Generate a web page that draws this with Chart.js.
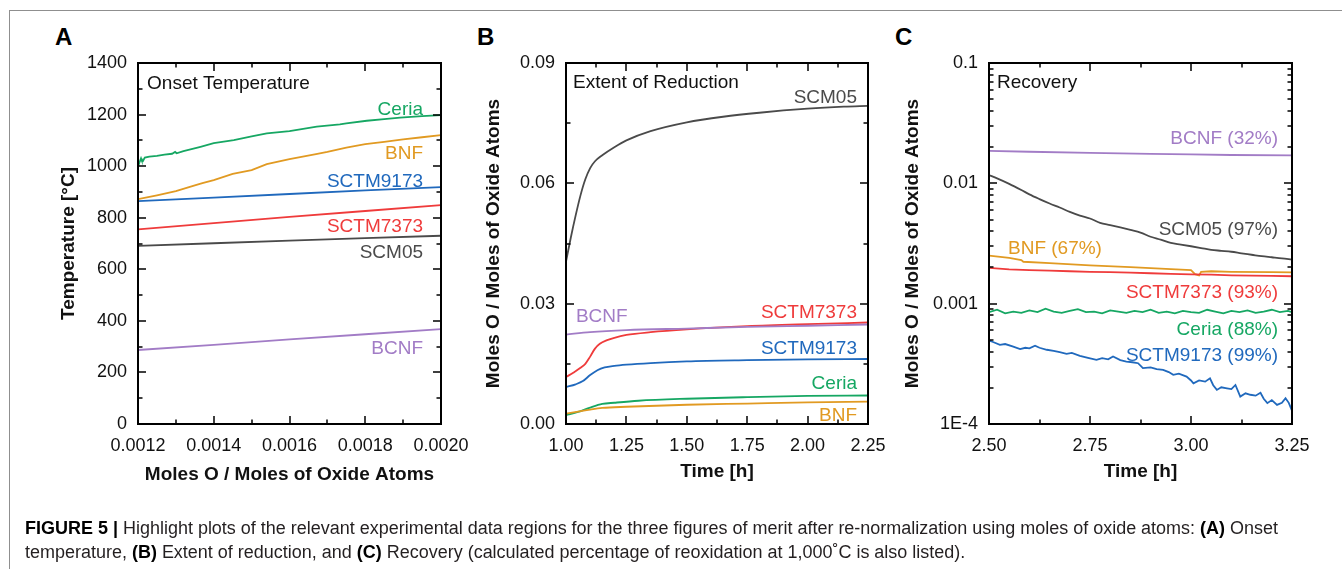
<!DOCTYPE html>
<html><head><meta charset="utf-8">
<script src="https://cdn.jsdelivr.net/npm/chart.js@4.4.0/dist/chart.umd.min.js"></script>
<style>
html,body{margin:0;padding:0;background:#fff;}
body{width:1342px;height:569px;position:relative;overflow:hidden;font-family:"Liberation Sans",Arial,sans-serif;}
canvas{position:absolute;left:0;top:0;}
#frameTop{position:absolute;left:10px;top:10px;width:1332px;height:0;border-top:1.5px solid #8f8f8f;}
#frameLeft{position:absolute;left:9px;top:10px;width:0;height:559px;border-left:1.5px solid #8f8f8f;}
.cap{position:absolute;left:25px;white-space:nowrap;font-size:18px;line-height:18px;color:#231f20;transform-origin:0 0;}
.cap b{color:#000;}
.panel{position:absolute;font-weight:bold;font-size:24px;line-height:24px;color:#000;}
</style></head>
<body>
<div id="frameTop"></div><div id="frameLeft"></div>
<div class="panel" style="left:55px;top:25px">A</div>
<div class="panel" style="left:477px;top:25px">B</div>
<div class="panel" style="left:895px;top:25px">C</div>
<canvas id="cA" width="1342" height="569"></canvas>
<canvas id="cB" width="1342" height="569"></canvas>
<canvas id="cC" width="1342" height="569"></canvas>
<div class="cap" id="cap1" style="top:519px"><b>FIGURE 5 |</b> Highlight plots of the relevant experimental data regions for the three figures of merit after re-normalization using moles of oxide atoms: <b>(A)</b> Onset</div>
<div class="cap" id="cap2" style="top:543px">temperature, <b>(B)</b> Extent of reduction, and <b>(C)</b> Recovery (calculated percentage of reoxidation at 1,000˚C is also listed).</div>
<script>
// ================= DATA =================
// ---- Panel A: Onset Temperature ----
const aXTicks = [0.0012, 0.0014, 0.0016, 0.0018, 0.0020];
const aXTickLabels = ['0.0012', '0.0014', '0.0016', '0.0018', '0.0020'];
const aXMinor = [0.0013, 0.0015, 0.0017, 0.0019];
const aYTicks = [0, 200, 400, 600, 800, 1000, 1200, 1400];
const aYTickLabels = ['0', '200', '400', '600', '800', '1000', '1200', '1400'];
const aYMinor = [100, 300, 500, 700, 900, 1100, 1300];

const aCeriaX = [0.001200, 0.001204, 0.001208, 0.001210, 0.001213, 0.001218, 0.001230, 0.001250, 0.001270, 0.001290, 0.001298, 0.001302, 0.001320, 0.001365, 0.001400, 0.001453, 0.001500, 0.001540, 0.001600, 0.001672, 0.001733, 0.001750, 0.001804, 0.001850, 0.001892, 0.001950, 0.002000];
const aCeriaT = [998, 1015, 1030, 1022, 1020, 1033, 1037, 1040, 1045, 1048, 1055, 1050, 1058, 1075, 1089, 1101, 1115, 1127, 1136, 1153, 1162, 1166, 1176, 1182, 1188, 1194, 1198];
const aBnfX = [0.00120, 0.00125, 0.00130, 0.00135, 0.00137, 0.00140, 0.00145, 0.00150, 0.00154, 0.00160, 0.00167, 0.00170, 0.00175, 0.00180, 0.00185, 0.00190, 0.00195, 0.00200];
const aBnfT = [872, 887, 903, 925, 934, 946, 970, 985, 1008, 1027, 1047, 1055, 1072, 1085, 1094, 1104, 1112, 1120];
const aLinX = [0.0012, 0.0014, 0.0016, 0.0018, 0.0020];
const aSctm9173T = [864, 878, 892, 906, 919];
const aSctm7373T = [755, 779, 803, 826, 849];
const aScm05T = [691, 701, 711, 721, 730];
const aBcnfT = [287, 307, 328, 348, 368];

// ---- Panel B: Extent of Reduction ----
const bXTicks = [1.00, 1.25, 1.50, 1.75, 2.00, 2.25];
const bXTickLabels = ['1.00', '1.25', '1.50', '1.75', '2.00', '2.25'];
const bXMinor = [1.125, 1.375, 1.625, 1.875, 2.125];
const bYTicks = [0, 0.03, 0.06, 0.09];
const bYTickLabels = ['0.00', '0.03', '0.06', '0.09'];
const bYMinor = [0.015, 0.045, 0.075];

const bScm05Time = [1.00, 1.02, 1.04, 1.06, 1.08, 1.10, 1.12, 1.15, 1.20, 1.25, 1.35, 1.50, 1.65, 1.80, 2.00, 2.15, 2.25];
const bScm05 = [0.0405, 0.0465, 0.0520, 0.0570, 0.0610, 0.0638, 0.0655, 0.0670, 0.0690, 0.0707, 0.0730, 0.0752, 0.0766, 0.0776, 0.0786, 0.0791, 0.0793];
const bBcnfTime = [1.00, 1.10, 1.25, 1.50, 1.75, 2.00, 2.25];
const bBcnf = [0.0223, 0.0229, 0.0234, 0.0238, 0.0242, 0.0245, 0.0248];
const bSctm7373Time = [1.00, 1.03, 1.06, 1.08, 1.10, 1.12, 1.14, 1.17, 1.20, 1.25, 1.35, 1.50, 1.75, 2.00, 2.25];
const bSctm7373 = [0.0117, 0.0128, 0.0140, 0.0150, 0.0168, 0.0188, 0.0200, 0.0209, 0.0215, 0.0222, 0.0229, 0.0236, 0.0244, 0.0249, 0.0253];
const bSctm9173Time = [1.00, 1.04, 1.07, 1.10, 1.13, 1.16, 1.20, 1.25, 1.35, 1.50, 1.75, 2.00, 2.25];
const bSctm9173 = [0.0092, 0.0099, 0.0107, 0.0122, 0.0134, 0.0141, 0.0145, 0.0148, 0.0152, 0.0156, 0.0159, 0.0161, 0.0162];
const bCeriaTime = [1.00, 1.05, 1.10, 1.15, 1.20, 1.30, 1.50, 1.75, 2.00, 2.25];
const bCeria = [0.0022, 0.0030, 0.0041, 0.0050, 0.0053, 0.0058, 0.0063, 0.0067, 0.0070, 0.0071];
const bBnfTime = [1.00, 1.05, 1.10, 1.15, 1.25, 1.50, 1.75, 2.00, 2.25];
const bBnf = [0.0026, 0.0031, 0.0036, 0.0040, 0.0043, 0.0048, 0.0051, 0.0054, 0.0056];

// ---- Panel C: Recovery ----
const cXTicks = [2.50, 2.75, 3.00, 3.25];
const cXTickLabels = ['2.50', '2.75', '3.00', '3.25'];
const cXMinor = [2.625, 2.875, 3.125];
const cYTicks = [0.0001, 0.001, 0.01, 0.1];
const cYTickLabels = ['1E-4', '0.001', '0.01', '0.1'];
const cYMinor = [0.0002, 0.0003, 0.0004, 0.0005, 0.0006, 0.0007, 0.0008, 0.0009, 0.002, 0.003, 0.004, 0.005, 0.006, 0.007, 0.008, 0.009, 0.02, 0.03, 0.04, 0.05, 0.06, 0.07, 0.08, 0.09];

const cBcnfTime = [2.50, 2.60, 2.75, 2.90, 3.00, 3.10, 3.25];
const cBcnf = [0.0186, 0.0183, 0.0179, 0.0176, 0.0174, 0.0172, 0.0171];
const cScm05Time = [2.50, 2.52, 2.55, 2.58, 2.60, 2.625, 2.65, 2.675, 2.70, 2.725, 2.75, 2.775, 2.80, 2.825, 2.85, 2.875, 2.90, 2.925, 2.95, 2.975, 3.00, 3.025, 3.05, 3.075, 3.10, 3.125, 3.15, 3.175, 3.20, 3.225, 3.25];
const cScm05 = [0.0117, 0.0110, 0.0099, 0.0088, 0.0081, 0.0074, 0.0068, 0.0063, 0.0058, 0.0054, 0.0051, 0.0047, 0.0045, 0.0043, 0.0041, 0.0039, 0.0036, 0.0034, 0.0032, 0.0031, 0.0030, 0.0029, 0.0028, 0.00275, 0.0027, 0.00262, 0.00255, 0.00248, 0.00243, 0.00238, 0.00232];
const cBnfTime = [2.50, 2.55, 2.58, 2.585, 2.65, 2.75, 2.85, 2.95, 3.00, 3.01, 3.02, 3.025, 3.05, 3.10, 3.20, 3.25];
const cBnf = [0.00251, 0.00240, 0.00230, 0.00223, 0.00217, 0.00208, 0.00201, 0.00194, 0.00190, 0.00176, 0.00172, 0.00184, 0.00186, 0.00184, 0.00183, 0.00182];
const cSctm7373Time = [2.50, 2.55, 2.60, 2.65, 2.70, 2.75, 2.80, 2.85, 2.90, 2.95, 3.00, 3.05, 3.10, 3.15, 3.20, 3.25];
const cSctm7373 = [0.00198, 0.00193, 0.00190, 0.00188, 0.00186, 0.00184, 0.00183, 0.00181, 0.00179, 0.00177, 0.00175, 0.00174, 0.00172, 0.00171, 0.00170, 0.00169];
const cCeriaTime = [2.50, 2.52, 2.54, 2.56, 2.58, 2.60, 2.62, 2.64, 2.66, 2.68, 2.70, 2.72, 2.74, 2.76, 2.78, 2.80, 2.82, 2.84, 2.86, 2.88, 2.90, 2.92, 2.94, 2.96, 2.98, 3.00, 3.02, 3.04, 3.06, 3.08, 3.10, 3.12, 3.14, 3.16, 3.18, 3.20, 3.22, 3.24, 3.25];
const cCeria = [0.00085, 0.00089, 0.00083, 0.00086, 0.00084, 0.00088, 0.00085, 0.00091, 0.00086, 0.00084, 0.00087, 0.00090, 0.00085, 0.00086, 0.00083, 0.00088, 0.00086, 0.00084, 0.00087, 0.00085, 0.00089, 0.00084, 0.00086, 0.00083, 0.00087, 0.00085, 0.00084, 0.00089, 0.00086, 0.00083, 0.00087, 0.00085, 0.00088, 0.00084, 0.00086, 0.00089, 0.00085, 0.00087, 0.00085];
const cSctm9173Time = [2.500, 2.510, 2.527, 2.540, 2.560, 2.577, 2.590, 2.600, 2.614, 2.625, 2.643, 2.660, 2.675, 2.692, 2.705, 2.725, 2.745, 2.766, 2.780, 2.795, 2.807, 2.825, 2.840, 2.855, 2.869, 2.881, 2.900, 2.915, 2.931, 2.945, 2.956, 2.970, 2.989, 3.000, 3.006, 3.020, 3.035, 3.047, 3.055, 3.064, 3.075, 3.089, 3.100, 3.110, 3.122, 3.135, 3.147, 3.160, 3.172, 3.180, 3.189, 3.200, 3.213, 3.225, 3.234, 3.242, 3.250];
const cSctm9173 = [0.000495, 0.000480, 0.000455, 0.000462, 0.000440, 0.000419, 0.000430, 0.000425, 0.000447, 0.000430, 0.000414, 0.000405, 0.000395, 0.000383, 0.000390, 0.000369, 0.000355, 0.000341, 0.000352, 0.000345, 0.000364, 0.000340, 0.000330, 0.000326, 0.000320, 0.000291, 0.000295, 0.000286, 0.000282, 0.000270, 0.000256, 0.000262, 0.000248, 0.000230, 0.000218, 0.000230, 0.000225, 0.000240, 0.000210, 0.000192, 0.000202, 0.000198, 0.000195, 0.000211, 0.000169, 0.000180, 0.000175, 0.000172, 0.000182, 0.000162, 0.000149, 0.000158, 0.000144, 0.000150, 0.000164, 0.000150, 0.000129];

// ================= STYLE / RENDER =================
const COL = {scm05:'#4a4a4a', s7373:'#ef3b3b', s9173:'#2069bd', bcnf:'#a27cc6', bnf:'#e19a22', ceria:'#16a763'};
const FONT = '"Liberation Sans", Arial, Helvetica, sans-serif';
const zip = (xs, ys) => xs.map((x, i) => ({x, y: ys[i]}));

const decor = {
  id: 'decor',
  afterDatasetsDraw(chart, args, o) {
    const {ctx, chartArea: a} = chart;
    const xs = chart.scales.x, ys = chart.scales.y;
    ctx.save();
    ctx.strokeStyle = '#000';
    const mark = (vals, len, horiz) => {
      ctx.lineWidth = 1.5;
      vals.forEach(v => {
        ctx.beginPath();
        if (horiz) {
          const p = Math.round(xs.getPixelForValue(v));
          ctx.moveTo(p, a.bottom); ctx.lineTo(p, a.bottom - len);
          ctx.moveTo(p, a.top); ctx.lineTo(p, a.top + len);
        } else {
          const p = Math.round(ys.getPixelForValue(v));
          ctx.moveTo(a.left, p); ctx.lineTo(a.left + len, p);
          ctx.moveTo(a.right, p); ctx.lineTo(a.right - len, p);
        }
        ctx.stroke();
      });
    };
    mark(o.xMajor, 8, true); mark(o.xMinor, 4.5, true);
    mark(o.yMajor, 8, false); mark(o.yMinor, 4.5, false);
    ctx.lineWidth = 2;
    ctx.strokeRect(a.left, a.top, a.right - a.left, a.bottom - a.top);
    ctx.font = '19px ' + FONT;
    ctx.textBaseline = 'middle';
    o.notes.forEach(n => {
      ctx.fillStyle = n.color; ctx.textAlign = n.align;
      ctx.fillText(n.text, xs.getPixelForValue(n.x), ys.getPixelForValue(n.y));
    });
    ctx.restore();
  }
};

function makePanel(id, p) {
  const area = p.area;
  const W = p.yAxisW, H = p.xAxisH;
  const tickFont = {family: FONT, size: 18};
  const titleFont = {family: FONT, size: 19, weight: 'bold', lineHeight: 1.2};
  new Chart(document.getElementById(id), {
    type: 'line',
    data: {datasets: p.datasets.map(d => ({data: d.data, borderColor: d.color, borderWidth: d.w || 1.8, pointRadius: 0, fill: false, tension: 0, cubicInterpolationMode: d.smooth ? 'monotone' : 'default'}))},
    options: {
      responsive: false, animation: false, devicePixelRatio: 1, parsing: true,
      layout: {padding: {left: area.l - W, right: 1342 - area.r, top: area.t, bottom: 569 - area.b - H}},
      plugins: {legend: {display: false}, tooltip: {enabled: false}, decor: {xMajor: p.xTicks, xMinor: p.xMinor, yMajor: p.yTicks, yMinor: p.yMinor, notes: p.notes}},
      scales: {
        x: {
          type: 'linear', position: 'bottom', min: p.xMin, max: p.xMax,
          grid: {display: false, drawTicks: false}, border: {display: false},
          afterBuildTicks: s => { s.ticks = p.xTicks.map(v => ({value: v})); },
          afterFit: s => { s.height = H; },
          ticks: {autoSkip: false, maxRotation: 0, minRotation: 0, padding: 11, color: '#111', font: tickFont, callback: (v, i) => p.xLabels[i]},
          title: {display: true, text: p.xTitle, color: '#111', font: titleFont, padding: 0}
        },
        y: {
          type: p.yType || 'linear', position: 'left', min: p.yMin, max: p.yMax,
          grid: {display: false, drawTicks: false}, border: {display: false},
          afterBuildTicks: s => { s.ticks = p.yTicks.map(v => ({value: v})); },
          afterFit: s => { s.width = W; },
          ticks: {autoSkip: false, padding: 11, color: '#111', font: tickFont, callback: (v, i) => p.yLabels[i]},
          title: {display: true, text: p.yTitle, color: '#111', font: titleFont, padding: 0}
        }
      }
    },
    plugins: [decor]
  });
}

makePanel('cA', {
  area: {l: 138, t: 63, r: 441, b: 424}, yAxisW: 81, xAxisH: 62,
  xMin: 0.0012, xMax: 0.0020, yMin: 0, yMax: 1400,
  xTicks: aXTicks, xLabels: aXTickLabels, xMinor: aXMinor,
  yTicks: aYTicks, yLabels: aYTickLabels, yMinor: aYMinor,
  xTitle: 'Moles O / Moles of Oxide Atoms', yTitle: 'Temperature [°C]',
  datasets: [
    {data: zip(aLinX, aBcnfT), color: COL.bcnf},
    {data: zip(aLinX, aScm05T), color: COL.scm05},
    {data: zip(aLinX, aSctm7373T), color: COL.s7373},
    {data: zip(aLinX, aSctm9173T), color: COL.s9173},
    {data: zip(aBnfX, aBnfT), color: COL.bnf},
    {data: zip(aCeriaX, aCeriaT), color: COL.ceria}
  ],
  notes: [
    {text: 'Onset Temperature', x: 0.001224, y: 1318, align: 'left', color: '#111'},
    {text: 'Ceria', x: 0.0019525, y: 1218, align: 'right', color: COL.ceria},
    {text: 'BNF', x: 0.0019525, y: 1047, align: 'right', color: COL.bnf},
    {text: 'SCTM9173', x: 0.0019525, y: 938, align: 'right', color: COL.s9173},
    {text: 'SCTM7373', x: 0.0019525, y: 764, align: 'right', color: COL.s7373},
    {text: 'SCM05', x: 0.0019525, y: 663, align: 'right', color: COL.scm05},
    {text: 'BCNF', x: 0.0019525, y: 291, align: 'right', color: COL.bcnf}
  ]
});

makePanel('cB', {
  area: {l: 566, t: 63, r: 868, b: 424}, yAxisW: 84, xAxisH: 59,
  xMin: 1.0, xMax: 2.25, yMin: 0, yMax: 0.09,
  xTicks: bXTicks, xLabels: bXTickLabels, xMinor: bXMinor,
  yTicks: bYTicks, yLabels: bYTickLabels, yMinor: bYMinor,
  xTitle: 'Time [h]', yTitle: 'Moles O / Moles of Oxide Atoms',
  datasets: [
    {data: zip(bBnfTime, bBnf), color: COL.bnf, smooth: true},
    {data: zip(bCeriaTime, bCeria), color: COL.ceria, smooth: true},
    {data: zip(bSctm9173Time, bSctm9173), color: COL.s9173, smooth: true},
    {data: zip(bBcnfTime, bBcnf), color: COL.bcnf, smooth: true},
    {data: zip(bSctm7373Time, bSctm7373), color: COL.s7373, smooth: true},
    {data: zip(bScm05Time, bScm05), color: COL.scm05, smooth: true}
  ],
  notes: [
    {text: 'Extent of Reduction', x: 1.029, y: 0.085, align: 'left', color: '#111'},
    {text: 'SCM05', x: 2.2045, y: 0.08125, align: 'right', color: COL.scm05},
    {text: 'BCNF', x: 1.041, y: 0.02675, align: 'left', color: COL.bcnf},
    {text: 'SCTM7373', x: 2.2045, y: 0.02775, align: 'right', color: COL.s7373},
    {text: 'SCTM9173', x: 2.2045, y: 0.01875, align: 'right', color: COL.s9173},
    {text: 'Ceria', x: 2.2045, y: 0.0100, align: 'right', color: COL.ceria},
    {text: 'BNF', x: 2.2045, y: 0.0020, align: 'right', color: COL.bnf}
  ]
});

makePanel('cC', {
  area: {l: 989, t: 63, r: 1292, b: 424}, yAxisW: 88, xAxisH: 59, yType: 'logarithmic',
  xMin: 2.5, xMax: 3.25, yMin: 0.0001, yMax: 0.1,
  xTicks: cXTicks, xLabels: cXTickLabels, xMinor: cXMinor,
  yTicks: cYTicks, yLabels: cYTickLabels, yMinor: cYMinor,
  xTitle: 'Time [h]', yTitle: 'Moles O / Moles of Oxide Atoms',
  datasets: [
    {data: zip(cSctm9173Time, cSctm9173), color: COL.s9173},
    {data: zip(cCeriaTime, cCeria), color: COL.ceria},
    {data: zip(cSctm7373Time, cSctm7373), color: COL.s7373},
    {data: zip(cBnfTime, cBnf), color: COL.bnf},
    {data: zip(cScm05Time, cScm05), color: COL.scm05, smooth: true},
    {data: zip(cBcnfTime, cBcnf), color: COL.bcnf}
  ],
  notes: [
    {text: 'Recovery', x: 2.5198, y: 0.0681, align: 'left', color: '#111'},
    {text: 'BCNF (32%)', x: 3.2153, y: 0.02328, align: 'right', color: COL.bcnf},
    {text: 'SCM05 (97%)', x: 3.2153, y: 0.004139, align: 'right', color: COL.scm05},
    {text: 'BNF (67%)', x: 2.547, y: 0.002873, align: 'left', color: COL.bnf},
    {text: 'SCTM7373 (93%)', x: 3.2153, y: 0.001236, align: 'right', color: COL.s7373},
    {text: 'Ceria (88%)', x: 3.2153, y: 0.000607, align: 'right', color: COL.ceria},
    {text: 'SCTM9173 (99%)', x: 3.2153, y: 0.000369, align: 'right', color: COL.s9173}
  ]
});

// caption fit
const c1 = document.getElementById('cap1'), c2 = document.getElementById('cap2');
const sc = 1253 / c1.getBoundingClientRect().width;
[c1, c2].forEach(c => c.style.transform = 'scaleX(' + sc + ')');
</script>
</body></html>
